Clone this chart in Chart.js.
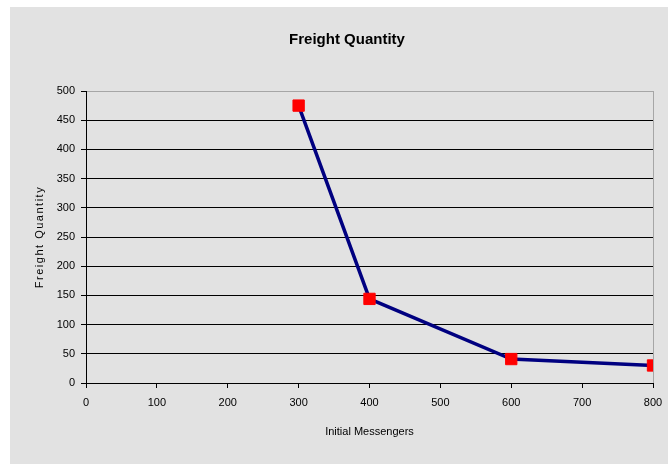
<!DOCTYPE html>
<html>
<head>
<meta charset="utf-8">
<title>Freight Quantity</title>
<script src="https://cdn.jsdelivr.net/npm/chart.js@4/dist/chart.umd.min.js"></script>
<style>
  html, body { margin: 0; padding: 0; background: #ffffff; }
  #wrap { width: 668px; height: 464px; }
</style>
</head>
<body>
<div id="wrap"><canvas id="chart" width="668" height="464"></canvas></div>
<script>
// Initial messengers vs. resulting freight quantity
const messengers = [300, 400, 600, 800];
const freight = [475, 144, 41, 30];
const xTicks = [0, 100, 200, 300, 400, 500, 600, 700, 800];
const yTicks = [0, 50, 100, 150, 200, 250, 300, 350, 400, 450, 500];

const panelGrey = '#e2e2e2';
const frameGrey = '#a6a6a6';
const tickFont = { family: "'Liberation Sans', Arial, sans-serif", size: 11 };

// Grey panel behind the whole chart
const panel = {
  id: 'panel',
  beforeDraw(chart) {
    const ctx = chart.ctx;
    ctx.save();
    ctx.fillStyle = '#ffffff';
    ctx.fillRect(0, 0, chart.width, chart.height);
    ctx.fillStyle = panelGrey;
    ctx.fillRect(10, 7, chart.width - 10, chart.height - 7);
    ctx.restore();
  }
};

new Chart(document.getElementById('chart'), {
  type: 'line',
  data: {
    datasets: [{
      label: 'Freight Quantity',
      data: messengers.map((m, i) => ({ x: m, y: freight[i] })),
      borderColor: '#000080',
      borderWidth: 3.5,
      tension: 0,
      fill: false,
      pointStyle: 'rect',
      pointRadius: 8,
      pointHoverRadius: 8,
      pointBackgroundColor: '#ff0000',
      pointBorderColor: '#ff0000',
      pointBorderWidth: 1
    }]
  },
  options: {
    responsive: false,
    animation: false,
    events: [],
    layout: { padding: { left: 41, right: 15, top: 0, bottom: 0 } },
    plugins: {
      legend: { display: false },
      tooltip: { enabled: false },
      title: {
        display: true,
        text: 'Freight Quantity',
        color: '#000000',
        font: { family: "'Liberation Sans', Arial, sans-serif", size: 15, weight: 'bold', lineHeight: 1.2 },
        padding: { top: 31, bottom: 42 }
      }
    },
    scales: {
      x: {
        type: 'linear',
        min: 0,
        max: 800,
        afterBuildTicks(scale) { scale.ticks = xTicks.map(v => ({ value: v })); },
        afterFit(scale) {
          scale.height = 81;
          scale.paddingLeft = 0;
          scale.paddingRight = 0;
        },
        ticks: { color: '#000000', font: tickFont, padding: 8, maxRotation: 0 },
        grid: {
          drawOnChartArea: true,
          color: c => (c.tick && c.tick.value === 800 ? frameGrey : 'rgba(0,0,0,0)'),
          tickColor: '#000000',
          tickLength: 5,
          lineWidth: 1
        },
        border: { display: true, color: '#000000', width: 1 },
        title: {
          display: true,
          text: 'Initial Messengers',
          color: '#000000',
          font: { family: "'Liberation Sans', Arial, sans-serif", size: 11, lineHeight: 1.2 },
          padding: { top: 0, bottom: 25 }
        }
      },
      y: {
        type: 'linear',
        min: 0,
        max: 500,
        afterBuildTicks(scale) { scale.ticks = yTicks.map(v => ({ value: v })); },
        afterFit(scale) {
          scale.width = 45;
          if (!scale._spacedTitle) {
            const baseDrawTitle = scale.drawTitle;
            scale.drawTitle = function (area) {
              this.ctx.save();
              this.ctx.letterSpacing = '1.5px';
              baseDrawTitle.call(this, area);
              this.ctx.restore();
            };
            scale._spacedTitle = true;
          }
        },
        ticks: { color: '#000000', font: tickFont, padding: 6 },
        grid: {
          color: c => (c.tick && c.tick.value === 500 ? frameGrey : '#000000'),
          tickColor: '#000000',
          tickLength: 5,
          lineWidth: 1
        },
        border: { display: true, color: '#000000', width: 1 },
        title: {
          display: true,
          text: 'Freight Quantity',
          color: '#000000',
          font: { family: "'Liberation Sans', Arial, sans-serif", size: 11, lineHeight: 1.2 },
          padding: -7.6
        }
      }
    }
  },
  plugins: [panel]
});
</script>
</body>
</html>
